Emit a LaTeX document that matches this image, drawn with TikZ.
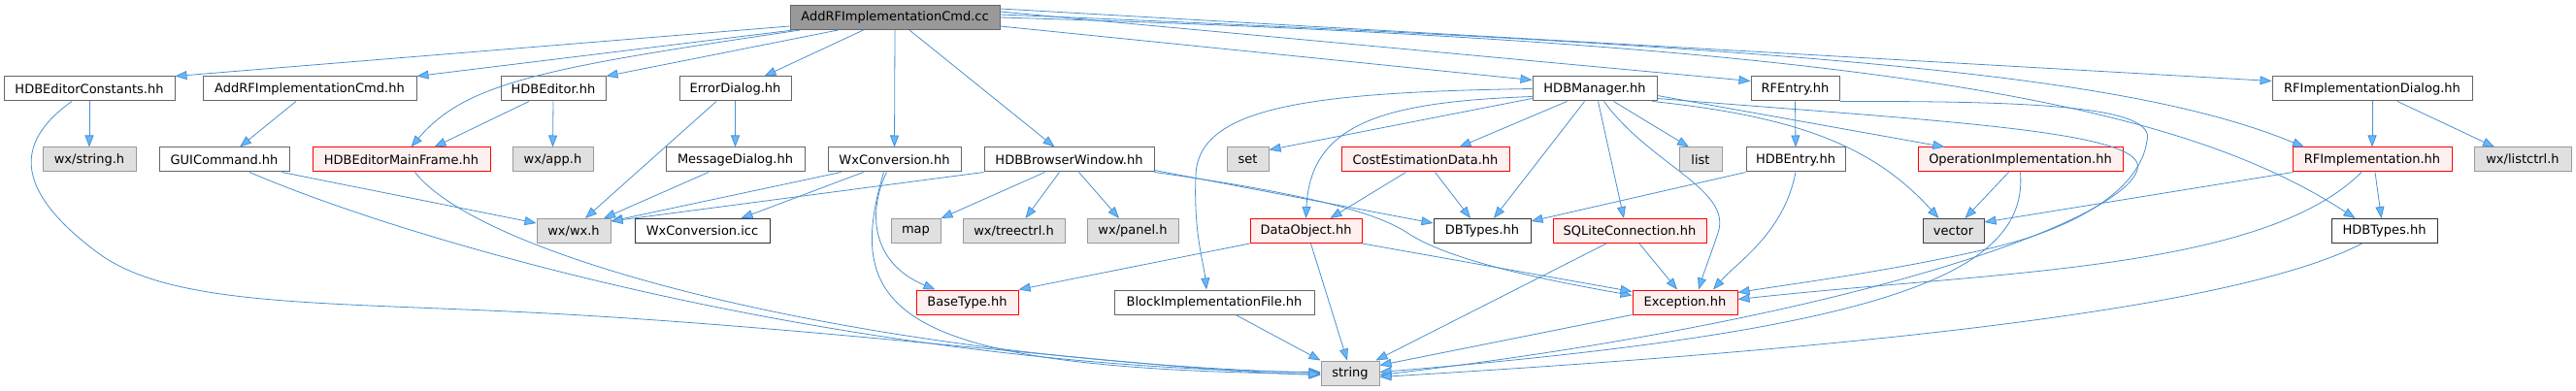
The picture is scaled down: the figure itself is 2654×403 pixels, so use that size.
\documentclass[tikz,border=0pt]{standalone}
\usepackage{fontspec}
\setmainfont{DejaVu Sans}
\usetikzlibrary{arrows.meta}
\definecolor{ec}{HTML}{4A90D0}
\definecolor{af}{HTML}{63B8FF}
\definecolor{gf}{HTML}{E0E0E0}
\definecolor{gb}{HTML}{999999}
\definecolor{nb}{HTML}{666666}
\definecolor{rf}{HTML}{FFF0F0}
\definecolor{tf}{HTML}{999999}
\begin{document}
\begin{tikzpicture}[x=1pt,y=-1pt,
  base/.style={rectangle, inner sep=0pt, minimum height=25pt, line width=1pt, font=\fontsize{13}{15}\selectfont, text=black},
  nd/.style={base, draw=nb, fill=white},
  ndb/.style={base, draw=black!80, fill=white},
  ndr/.style={base, draw=red, fill=rf},
  ndg/.style={base, draw=gb, fill=gf},
  ndgd/.style={base, draw=black!75, fill=gf},
  ndt/.style={base, draw=nb, fill=tf},
  lnk/.style={draw=ec, line width=0.8pt, -{Triangle[length=12pt,width=9pt,fill=af]}}]
\useasboundingbox (0,0) rectangle (2654,403);
% row 1
\node[ndt, minimum width=216pt] (T) at (922,18) {AddRFImplementationCmd.cc};
% row 2
\node[nd, minimum width=176pt] (hec) at (92,91.5) {HDBEditorConstants.hh};
\node[nd, minimum width=220pt] (arcmdh) at (319,91.5) {AddRFImplementationCmd.hh};
\node[nd, minimum width=108pt] (hed) at (570,91.5) {HDBEditor.hh};
\node[nd, minimum width=115pt] (errd) at (757.5,91.5) {ErrorDialog.hh};
\node[nd, minimum width=128pt] (hdbm) at (1643,91.5) {HDBManager.hh};
\node[nd, minimum width=91pt] (rfe) at (1849.5,91.5) {RFEntry.hh};
\node[nd, minimum width=206pt] (rfid) at (2444,91.5) {RFImplementationDialog.hh};
% row 3
\node[ndg, minimum width=96pt] (wxs) at (92,164.5) {wx/string.h};
\node[nd, minimum width=134pt] (guic) at (231,164.5) {GUICommand.hh};
\node[ndr, minimum width=183pt] (hemf) at (413.5,164.5) {HDBEditorMainFrame.hh};
\node[ndg, minimum width=83pt] (wxapp) at (569.5,164.5) {wx/app.h};
\node[nd, minimum width=143pt] (msgd) at (757.5,164.5) {MessageDialog.hh};
\node[nd, minimum width=137pt] (wxc) at (921.5,164.5) {WxConversion.hh};
\node[nd, minimum width=175pt] (hbw) at (1101.5,164.5) {HDBBrowserWindow.hh};
\node[ndg, minimum width=43pt] (nset) at (1285.5,164.5) {set};
\node[ndr, minimum width=173pt] (ced) at (1468.5,164.5) {CostEstimationData.hh};
\node[ndg, minimum width=44pt] (lst) at (1752,164.5) {list};
\node[nd, minimum width=102pt] (hent) at (1850,164.5) {HDBEntry.hh};
\node[ndr, minimum width=211pt] (opi) at (2081.5,164.5) {OperationImplementation.hh};
\node[ndr, minimum width=164pt] (rfi) at (2444,164.5) {RFImplementation.hh};
\node[ndg, minimum width=100pt] (wxlc) at (2599,164.5) {wx/listctrl.h};
% row 4
\node[ndg, minimum width=76pt] (wxwx) at (591,238) {wx/wx.h};
\node[ndb, minimum width=139pt] (wxci) at (723.5,238) {WxConversion.icc};
\node[ndg, minimum width=51pt] (mapn) at (943.5,238) {map};
\node[ndg, minimum width=105pt] (wxtc) at (1044.5,238) {wx/treectrl.h};
\node[ndg, minimum width=94pt] (wxpn) at (1167,238) {wx/panel.h};
\node[ndr, minimum width=115pt] (dobj) at (1345.5,238) {DataObject.hh};
\node[ndb, minimum width=100pt] (dbt) at (1527,238) {DBTypes.hh};
\node[ndr, minimum width=158pt] (sql) at (1679,238) {SQLiteConnection.hh};
\node[ndgd, minimum width=63pt] (vec) at (2012.5,238) {vector};
\node[ndb, minimum width=109pt] (hdbt) at (2456.5,238) {HDBTypes.hh};
% row 5
\node[ndr, minimum width=105pt] (bt) at (996.5,311.5) {BaseType.hh};
\node[nd, minimum width=206pt] (bif) at (1251,311.5) {BlockImplementationFile.hh};
\node[ndr, minimum width=108pt] (exc) at (1736,311.5) {Exception.hh};
% row 6
\node[ndg, minimum width=60pt] (str) at (1391,384.5) {string};

% edges from the top node
\draw[lnk] ([yshift=4pt]T.south west) -- (hec.north east);
\draw[lnk] ([xshift=4pt]T.south west) -- (arcmdh.north east);
\draw[lnk] ([xshift=11pt]T.south west) .. controls (560,70) and (480,85) .. ([xshift=10pt]hemf.north);
\draw[lnk] ([xshift=50pt]T.south west) -- (hed.north east);
\draw[lnk] ([xshift=76pt]T.south west) -- ([xshift=30pt]errd.north);
\draw[lnk] (T.south) -- (wxc.north);
\draw[lnk] ([xshift=15pt]T.south) -- ([xshift=-15pt]hbw.north);
\draw[lnk] ([yshift=4pt]T.south east) -- ([yshift=-4pt]hdbm.north west);
\draw[lnk] ([yshift=-7pt]T.north east) -- ([yshift=-5pt]rfe.north west);
\draw[lnk] ([yshift=-4pt]T.north east) -- ([yshift=-5pt]rfid.north west);
\draw[lnk] ([yshift=-10pt]T.north east) .. controls (1900,50) and (2200,80) .. ([xshift=-70pt]rfi.north);
\draw[lnk] ([yshift=-13pt]T.north east) .. controls (1950,45) and (2250,110) .. ([xshift=-30pt]hdbt.north);

% left part
\draw[lnk] (hec.south) -- (wxs.north);
\draw[lnk] ([xshift=-18pt]hec.south) .. controls (10,150) and (20,200) .. (100,260) .. controls (180,320) and (350,310) .. (600,325) .. controls (900,343) and (1200,382) .. ([yshift=-2pt]str.west);
\draw[lnk] ([xshift=-14pt]arcmdh.south) -- ([xshift=16pt]guic.north);
\draw[lnk] ([xshift=-8pt]guic.south east) -- ([yshift=-5pt]wxwx.north west);
\draw[lnk] ([xshift=26pt]guic.south) .. controls (450,260) and (900,380) .. ([yshift=1pt]str.west);
\draw[lnk] ([xshift=-25pt]hed.south) -- ([xshift=34pt]hemf.north);
\draw[lnk] (hed.south) -- (wxapp.north);
\draw[lnk] ([xshift=14pt]hemf.south) .. controls (500,270) and (900,370) .. (str.west);
\draw[lnk] (errd.south) -- (msgd.north);
\draw[lnk] ([xshift=-19.5pt]errd.south) -- ([xshift=12pt]wxwx.north);
\draw[lnk] ([xshift=-27.5pt]msgd.south) -- ([xshift=31pt]wxwx.north);
\draw[lnk] ([xshift=14pt]wxc.south west) -- ([yshift=-3pt]wxwx.north east);
\draw[lnk] ([xshift=37pt]wxc.south west) -- ([xshift=40pt]wxci.north);
\draw[lnk] ([xshift=-8pt]wxc.south) .. controls (895,215) and (895,270) .. ([xshift=-33pt]bt.north);
\draw[lnk] ([xshift=-11pt]wxc.south) .. controls (868,320) and (920,380) .. ([yshift=-1pt]str.west);

% HDBBrowserWindow
\draw[lnk] (hbw.south west) -- ([yshift=-3pt]wxwx.north east);
\draw[lnk] ([xshift=-25pt]hbw.south) -- (mapn.north east);
\draw[lnk] ([xshift=-10pt]hbw.south) -- ([xshift=12pt]wxtc.north);
\draw[lnk] ([xshift=10pt]hbw.south) -- ([xshift=-14pt]wxpn.north);
\draw[lnk] ([yshift=2pt]hbw.south east) -- ([yshift=-5pt]dbt.north west);
\draw[lnk] (hbw.south east) .. controls (1350,200) and (1420,220) .. (1450,240) .. controls (1495,270) and (1600,290) .. ([yshift=-6pt]exc.north west);

% HDBManager
\draw[lnk] ([yshift=3pt]hdbm.south west) -- ([yshift=-3pt]nset.north east);
\draw[lnk] (hdbm.west) .. controls (1350,95) and (1235,110) .. (1232,180) .. controls (1229.5,240) and (1240,270) .. ([xshift=-8pt]bif.north);
\draw[lnk] ([yshift=5pt]hdbm.south west) .. controls (1430,105) and (1350,125) .. (dobj.north);
\draw[lnk] ([xshift=36pt]hdbm.south west) -- ([xshift=35pt]ced.north);
\draw[lnk] ([xshift=54pt]hdbm.south west) -- ([xshift=12pt]dbt.north);
\draw[lnk] ([xshift=68pt]hdbm.south west) -- ([xshift=-6pt]sql.north);
\draw[lnk] ([xshift=74pt]hdbm.south west) .. controls (1700,170) and (1785,195) .. (1770,240) .. controls (1761,267) and (1755,282) .. ([xshift=14pt]exc.north);
\draw[lnk] ([xshift=-45pt]hdbm.south east) -- ([xshift=-12pt]lst.north);
\draw[lnk] ([yshift=6pt]hdbm.south east) -- ([xshift=-78pt]opi.north);
\draw[lnk] ([xshift=-5pt]hdbm.south east) .. controls (1850,120) and (1930,150) .. ([xshift=-15pt]vec.north);
\draw[lnk] ([yshift=3pt]hdbm.south east) .. controls (2000,125) and (2215,135) .. (2202,175) .. controls (2185,230) and (1900,330) .. ([yshift=-2pt]str.east);

% CostEstimationData, DataObject, SQLite, Exception, BlockImpl
\draw[lnk] ([xshift=-20pt]ced.south) -- ([xshift=25pt]dobj.north);
\draw[lnk] ([xshift=10pt]ced.south) -- ([xshift=-12pt]dbt.north);
\draw[lnk] (dobj.south west) -- (bt.north east);
\draw[lnk] ([xshift=5pt]dobj.south) -- ([xshift=-3pt]str.north);
\draw[lnk] (dobj.south east) -- ([yshift=-2pt]exc.north west);
\draw[lnk] ([xshift=10pt]sql.south) -- ([xshift=-8pt]exc.north);
\draw[lnk] ([xshift=-24pt]sql.south) -- ([xshift=-4pt]str.north east);
\draw[lnk] (exc.south west) -- ([yshift=-5pt]str.north east);
\draw[lnk] ([xshift=22pt]bif.south) -- (str.north west);

% RFEntry, HDBEntry
\draw[lnk] (rfe.south) -- (hent.north);
\draw[lnk] (rfe.south east) .. controls (2100,104) and (2222,110) .. (2212,145) .. controls (2205,195) and (2140,235) .. (2050,256) .. controls (1951,279) and (1850,292) .. ([yshift=-3pt]exc.north east);
\draw[lnk] (hent.south west) -- ([yshift=-3pt]dbt.north east);
\draw[lnk] (hent.south) .. controls (1838,240) and (1790,270) .. ([xshift=29pt]exc.north);

% OperationImplementation
\draw[lnk] ([xshift=-12pt]opi.south) -- ([xshift=12pt]vec.north);
\draw[lnk] (opi.south) .. controls (2090,280) and (1950,340) .. ([yshift=1pt]str.east);

% RFImplementationDialog, RFImplementation, HDBTypes
\draw[lnk] (rfid.south) -- (rfi.north);
\draw[lnk] ([xshift=26pt]rfid.south) -- ([xshift=-29pt]wxlc.north);
\draw[lnk] ([xshift=1pt]rfi.south west) -- ([yshift=-4pt]vec.north east);
\draw[lnk] ([xshift=-11pt]rfi.south) .. controls (2330,280) and (2050,280) .. ([yshift=3pt]exc.east);
\draw[lnk] ([xshift=3pt]rfi.south) -- ([xshift=-3pt]hdbt.north);
\draw[lnk] ([xshift=-23pt]hdbt.south) .. controls (2300,320) and (1900,360) .. ([yshift=-4pt]str.east);
\end{tikzpicture}
\end{document}
